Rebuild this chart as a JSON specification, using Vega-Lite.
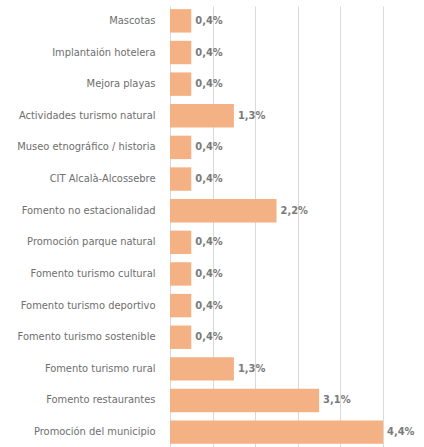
{
  "$schema": "https://vega.github.io/schema/vega-lite/v6.json",
  "autosize": "none",
  "width": 213,
  "height": 441,
  "padding": {"left": 170, "top": 6, "right": 41, "bottom": 0},
  "background": "white",
  "data": {"values": [
    {"categoria": "Mascotas", "pct": 0.444, "etiqueta": "0,4%"},
    {"categoria": "Implantaión hotelera", "pct": 0.444, "etiqueta": "0,4%"},
    {"categoria": "Mejora playas", "pct": 0.444, "etiqueta": "0,4%"},
    {"categoria": "Actividades turismo natural", "pct": 1.333, "etiqueta": "1,3%"},
    {"categoria": "Museo etnográfico / historia", "pct": 0.444, "etiqueta": "0,4%"},
    {"categoria": "CIT Alcalà-Alcossebre", "pct": 0.444, "etiqueta": "0,4%"},
    {"categoria": "Fomento no estacionalidad", "pct": 2.222, "etiqueta": "2,2%"},
    {"categoria": "Promoción parque natural", "pct": 0.444, "etiqueta": "0,4%"},
    {"categoria": "Fomento turismo cultural", "pct": 0.444, "etiqueta": "0,4%"},
    {"categoria": "Fomento turismo deportivo", "pct": 0.444, "etiqueta": "0,4%"},
    {"categoria": "Fomento turismo sostenible", "pct": 0.444, "etiqueta": "0,4%"},
    {"categoria": "Fomento turismo rural", "pct": 1.333, "etiqueta": "1,3%"},
    {"categoria": "Fomento restaurantes", "pct": 3.111, "etiqueta": "3,1%"},
    {"categoria": "Promoción del municipio", "pct": 4.444, "etiqueta": "4,4%"}
  ]},
  "encoding": {
    "y": {
      "field": "categoria", "type": "nominal", "sort": null,
      "scale": {"paddingInner": 0.26, "paddingOuter": 0.1},
      "axis": {"title": null, "ticks": false, "tickSize": 0, "domain": false, "labelPadding": 15,
               "labelFont": "DejaVu Sans Condensed", "labelFontSize": 11, "labelFontWeight": "normal", "labelColor": "#6e6e6e", "labelLimit": 300}
    },
    "x": {
      "field": "pct", "type": "quantitative",
      "scale": {"domain": [0, 4.444], "nice": false},
      "axis": {"title": null, "labels": false, "ticks": false, "domain": false, "grid": true,
               "values": [0, 0.8888, 1.7776, 2.6664, 3.5552, 4.444], "gridColor": "#d9d9d9", "gridWidth": 1}
    }
  },
  "layer": [
    {"mark": {"type": "bar", "color": "#f4b183"}},
    {"mark": {"type": "text", "align": "left", "baseline": "middle", "dx": 4, "font": "DejaVu Sans Condensed", "fontSize": 11, "fontWeight": "bold", "color": "#7a7a7a"},
     "encoding": {"text": {"field": "etiqueta"}}}
  ],
  "config": {"view": {"stroke": null}}
}
